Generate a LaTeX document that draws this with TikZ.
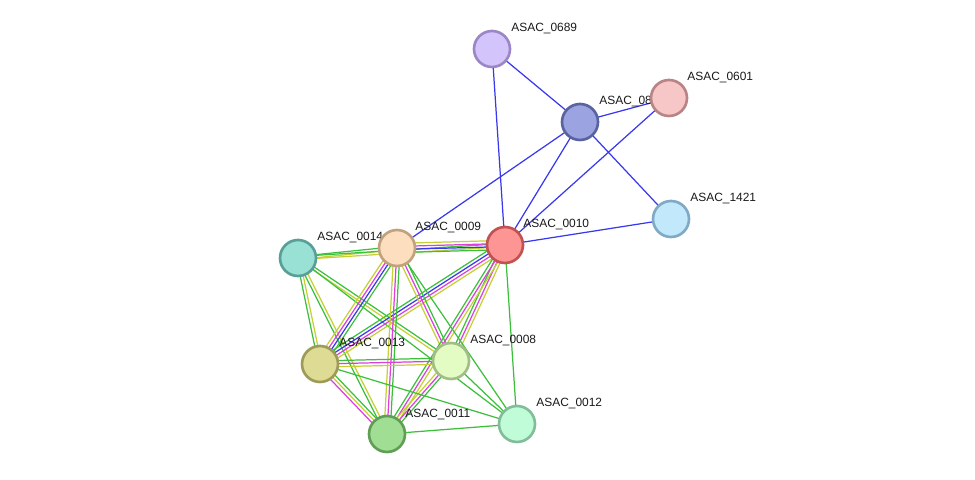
\documentclass[tikz,border=0pt]{standalone}
\usepackage{fontspec}
\setsansfont{Liberation Sans}
\usepackage{tikz}
\usetikzlibrary{calc}
\definecolor{cLabel}   {HTML}{1A1A1A}
\definecolor{cEdgeG}   {HTML}{3CC03C}
\definecolor{cEdgeY}   {HTML}{C5D033}
\definecolor{cEdgeM}   {HTML}{DE3EDE}
\definecolor{cEdgeB}   {HTML}{3838EE}
\definecolor{cFl0689}{HTML}{D4C4FC} \definecolor{cBd0689}{HTML}{9B86C6}
\definecolor{cFl0800}{HTML}{9BA3E1} \definecolor{cBd0800}{HTML}{5A63A0}
\definecolor{cFl0601}{HTML}{F7C6C6} \definecolor{cBd0601}{HTML}{B88585}
\definecolor{cFl1421}{HTML}{C1E8FB} \definecolor{cBd1421}{HTML}{80A9C6}
\definecolor{cFl0010}{HTML}{FD9595} \definecolor{cBd0010}{HTML}{C05252}
\definecolor{cFl0009}{HTML}{FDDFC0} \definecolor{cBd0009}{HTML}{C2A17F}
\definecolor{cFl0014}{HTML}{99E0D5} \definecolor{cBd0014}{HTML}{589F97}
\definecolor{cFl0013}{HTML}{DDDB94} \definecolor{cBd0013}{HTML}{9D9B57}
\definecolor{cFl0008}{HTML}{E2FCC4} \definecolor{cBd0008}{HTML}{A2BD86}
\definecolor{cFl0011}{HTML}{A0DE94} \definecolor{cBd0011}{HTML}{609E56}
\definecolor{cFl0012}{HTML}{C1FCD8} \definecolor{cBd0012}{HTML}{80BD98}
\pgfdeclarelayer{edges}
\pgfdeclarelayer{labels}
\pgfsetlayers{edges,labels,main}
\tikzset{
  protein/.style={circle, minimum size=7.2mm, inner sep=0pt, line width=1.5pt},
  plabel/.style={anchor=base west, inner sep=0pt, text=cLabel,
                 font=\sffamily\fontsize{6.8}{8}\selectfont},
  elink/.style={line width=0.7pt},
}
% one line per evidence channel, side by side
\newcommand{\plink}[3]{%
  \foreach \col/\off in {#3}
    \draw[elink, \col] ($(#1)!\off*1.75pt!90:(#2)$) -- ($(#2)!\off*1.75pt!-90:(#1)$);
}
\begin{document}
\begin{tikzpicture}[x=0.2mm, y=-0.2mm]
  \useasboundingbox (0,0) rectangle (975,480);
  % proteins
  \node[protein, draw=cBd0689, fill=cFl0689] (p0689) at (492, 49) {};
  \node[protein, draw=cBd0800, fill=cFl0800] (p0800) at (580,122) {};
  \node[protein, draw=cBd0601, fill=cFl0601] (p0601) at (669, 98) {};
  \node[protein, draw=cBd1421, fill=cFl1421] (p1421) at (671,219) {};
  \node[protein, draw=cBd0010, fill=cFl0010] (p0010) at (505,245) {};
  \node[protein, draw=cBd0009, fill=cFl0009] (p0009) at (397,248) {};
  \node[protein, draw=cBd0014, fill=cFl0014] (p0014) at (298,258) {};
  \node[protein, draw=cBd0013, fill=cFl0013] (p0013) at (320,364) {};
  \node[protein, draw=cBd0008, fill=cFl0008] (p0008) at (451,361) {};
  \node[protein, draw=cBd0011, fill=cFl0011] (p0011) at (387,434) {};
  \node[protein, draw=cBd0012, fill=cFl0012] (p0012) at (517,424) {};
  % names
  \begin{pgfonlayer}{labels}
    \node[plabel] (l0689) at ($(p0689)+(19,-17)$) {ASAC\_0689};
    \node[plabel] (l0800) at ($(p0800)+(19,-17)$) {ASAC\_08};
    \node[plabel] (l0601) at ($(p0601)+(18,-17)$) {ASAC\_0601};
    \node[plabel] (l1421) at ($(p1421)+(19,-17)$) {ASAC\_1421};
    \node[plabel] (l0010) at ($(p0010)+(18,-17)$) {ASAC\_0010};
    \node[plabel] (l0009) at ($(p0009)+(18,-17)$) {ASAC\_0009};
    \node[plabel] (l0014) at ($(p0014)+(19,-17)$) {ASAC\_0014};
    \node[plabel] (l0013) at ($(p0013)+(19,-17)$) {ASAC\_0013};
    \node[plabel] (l0008) at ($(p0008)+(19,-17)$) {ASAC\_0008};
    \node[plabel] (l0011) at ($(p0011)+(18,-17)$) {ASAC\_0011};
    \node[plabel] (l0012) at ($(p0012)+(19,-17)$) {ASAC\_0012};
  \end{pgfonlayer}
  % interactions
  \begin{pgfonlayer}{edges}
    \plink{p0689}{p0800}{cEdgeB/0}
    \plink{p0689}{p0010}{cEdgeB/0}
    \plink{p0800}{p0601}{cEdgeB/0}
    \plink{p0800}{p0009}{cEdgeB/0}
    \plink{p0800}{p0010}{cEdgeB/0}
    \plink{p0800}{p1421}{cEdgeB/0}
    \plink{p0601}{p0010}{cEdgeB/0}
    \plink{p0010}{p1421}{cEdgeB/0}
    \plink{p0014}{p0009}{cEdgeY/-0.5, cEdgeG/0.5}
    \plink{p0014}{p0010}{cEdgeY/-0.5, cEdgeG/0.5}
    \plink{p0014}{p0013}{cEdgeG/-0.5, cEdgeY/0.5}
    \plink{p0014}{p0011}{cEdgeG/-0.5, cEdgeY/0.5}
    \plink{p0014}{p0008}{cEdgeY/-0.5, cEdgeG/0.5}
    \plink{p0014}{p0012}{cEdgeG/0}
    \plink{p0009}{p0010}{cEdgeG/-1.5, cEdgeB/-0.5, cEdgeM/0.5, cEdgeY/1.5}
    \plink{p0009}{p0013}{cEdgeY/-1.5, cEdgeM/-0.5, cEdgeB/0.5, cEdgeG/1.5}
    \plink{p0010}{p0013}{cEdgeY/1.5, cEdgeM/0.5, cEdgeB/-0.5, cEdgeG/-1.5}
    \plink{p0009}{p0008}{cEdgeY/-1, cEdgeM/0, cEdgeG/1}
    \plink{p0010}{p0008}{cEdgeY/1, cEdgeM/0, cEdgeG/-1}
    \plink{p0009}{p0011}{cEdgeY/-1, cEdgeM/0, cEdgeG/1}
    \plink{p0010}{p0011}{cEdgeY/1, cEdgeM/0, cEdgeG/-1}
    \plink{p0013}{p0008}{cEdgeY/-1, cEdgeM/0, cEdgeG/1}
    \plink{p0013}{p0011}{cEdgeM/-1, cEdgeY/0, cEdgeG/1}
    \plink{p0008}{p0011}{cEdgeY/-1, cEdgeM/0, cEdgeG/1}
    \plink{p0013}{p0012}{cEdgeG/0}
    \plink{p0008}{p0012}{cEdgeG/0}
    \plink{p0011}{p0012}{cEdgeG/0}
    \plink{p0010}{p0012}{cEdgeG/0}
    \plink{p0009}{p0012}{cEdgeG/0}
  \end{pgfonlayer}
\end{tikzpicture}
\end{document}
